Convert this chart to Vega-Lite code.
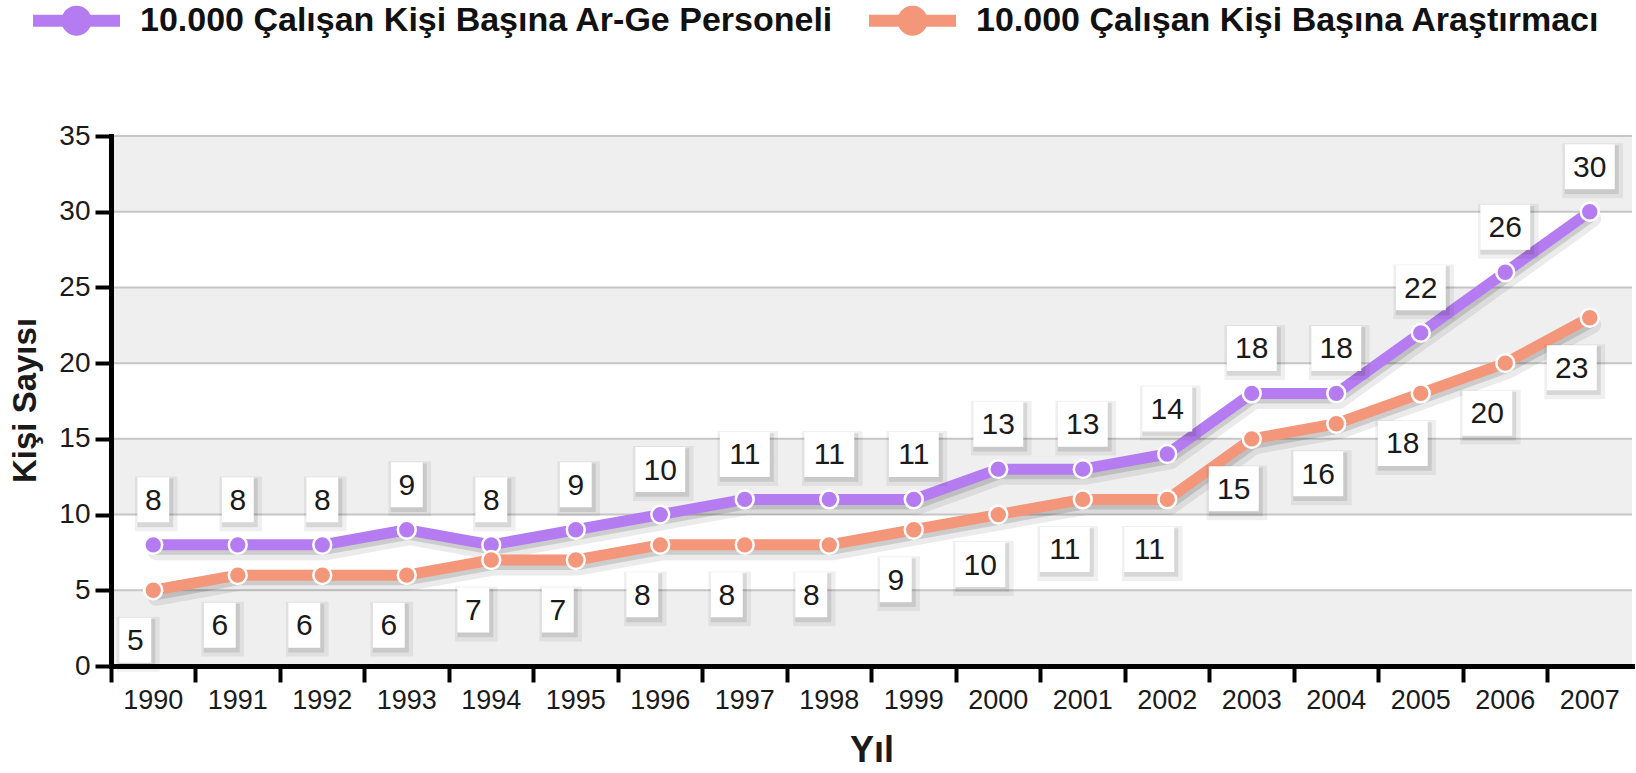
{
  "$schema": "https://vega.github.io/schema/vega-lite/v6.json",
  "width": 1521,
  "height": 530,
  "autosize": {"type": "none"},
  "padding": {"left": 111, "top": 136, "right": 4, "bottom": 107},
  "background": "white",
  "config": {
    "font": "Liberation Sans",
    "view": {"stroke": null}
  },
  "datasets": {
    "series": [
      {"year": "1990", "series": "10.000 Çalışan Kişi Başına Ar-Ge Personeli", "value": 8},
      {"year": "1991", "series": "10.000 Çalışan Kişi Başına Ar-Ge Personeli", "value": 8},
      {"year": "1992", "series": "10.000 Çalışan Kişi Başına Ar-Ge Personeli", "value": 8},
      {"year": "1993", "series": "10.000 Çalışan Kişi Başına Ar-Ge Personeli", "value": 9},
      {"year": "1994", "series": "10.000 Çalışan Kişi Başına Ar-Ge Personeli", "value": 8},
      {"year": "1995", "series": "10.000 Çalışan Kişi Başına Ar-Ge Personeli", "value": 9},
      {"year": "1996", "series": "10.000 Çalışan Kişi Başına Ar-Ge Personeli", "value": 10},
      {"year": "1997", "series": "10.000 Çalışan Kişi Başına Ar-Ge Personeli", "value": 11},
      {"year": "1998", "series": "10.000 Çalışan Kişi Başına Ar-Ge Personeli", "value": 11},
      {"year": "1999", "series": "10.000 Çalışan Kişi Başına Ar-Ge Personeli", "value": 11},
      {"year": "2000", "series": "10.000 Çalışan Kişi Başına Ar-Ge Personeli", "value": 13},
      {"year": "2001", "series": "10.000 Çalışan Kişi Başına Ar-Ge Personeli", "value": 13},
      {"year": "2002", "series": "10.000 Çalışan Kişi Başına Ar-Ge Personeli", "value": 14},
      {"year": "2003", "series": "10.000 Çalışan Kişi Başına Ar-Ge Personeli", "value": 18},
      {"year": "2004", "series": "10.000 Çalışan Kişi Başına Ar-Ge Personeli", "value": 18},
      {"year": "2005", "series": "10.000 Çalışan Kişi Başına Ar-Ge Personeli", "value": 22},
      {"year": "2006", "series": "10.000 Çalışan Kişi Başına Ar-Ge Personeli", "value": 26},
      {"year": "2007", "series": "10.000 Çalışan Kişi Başına Ar-Ge Personeli", "value": 30},
      {"year": "1990", "series": "10.000 Çalışan Kişi Başına Araştırmacı", "value": 5},
      {"year": "1991", "series": "10.000 Çalışan Kişi Başına Araştırmacı", "value": 6},
      {"year": "1992", "series": "10.000 Çalışan Kişi Başına Araştırmacı", "value": 6},
      {"year": "1993", "series": "10.000 Çalışan Kişi Başına Araştırmacı", "value": 6},
      {"year": "1994", "series": "10.000 Çalışan Kişi Başına Araştırmacı", "value": 7},
      {"year": "1995", "series": "10.000 Çalışan Kişi Başına Araştırmacı", "value": 7},
      {"year": "1996", "series": "10.000 Çalışan Kişi Başına Araştırmacı", "value": 8},
      {"year": "1997", "series": "10.000 Çalışan Kişi Başına Araştırmacı", "value": 8},
      {"year": "1998", "series": "10.000 Çalışan Kişi Başına Araştırmacı", "value": 8},
      {"year": "1999", "series": "10.000 Çalışan Kişi Başına Araştırmacı", "value": 9},
      {"year": "2000", "series": "10.000 Çalışan Kişi Başına Araştırmacı", "value": 10},
      {"year": "2001", "series": "10.000 Çalışan Kişi Başına Araştırmacı", "value": 11},
      {"year": "2002", "series": "10.000 Çalışan Kişi Başına Araştırmacı", "value": 11},
      {"year": "2003", "series": "10.000 Çalışan Kişi Başına Araştırmacı", "value": 15},
      {"year": "2004", "series": "10.000 Çalışan Kişi Başına Araştırmacı", "value": 16},
      {"year": "2005", "series": "10.000 Çalışan Kişi Başına Araştırmacı", "value": 18},
      {"year": "2006", "series": "10.000 Çalışan Kişi Başına Araştırmacı", "value": 20},
      {"year": "2007", "series": "10.000 Çalışan Kişi Başına Araştırmacı", "value": 23}
    ],
    "bands": [
      {"lo": 0, "hi": 5}, {"lo": 10, "hi": 15}, {"lo": 20, "hi": 25}, {"lo": 30, "hi": 35}
    ],
    "grid": [
      {"v": 5}, {"v": 10}, {"v": 15}, {"v": 20}, {"v": 25}, {"v": 30}, {"v": 35}
    ]
  },
  "layer": [
    {
      "data": {"name": "bands"},
      "mark": {"type": "rect", "color": "#efefef"},
      "encoding": {
        "y": {"field": "lo", "type": "quantitative", "title": "Kişi Sayısı", "scale": {"domain": [0, 35], "nice": false},
          "axis": {
            "values": [0, 5, 10, 15, 20, 25, 30, 35],
            "domainColor": "#000000", "domainWidth": 5, "domainCap": "square", "tickColor": "#000000", "tickWidth": 4, "tickSize": 16,
            "labelFontSize": 28, "labelColor": "#1a1a1a", "labelPadding": 5,
            "titleFontSize": 33, "titleFontWeight": "bold", "titleColor": "#1a1a1a", "titleX": -86, "titleY": 264,
            "titleBaseline": "middle", "titleAlign": "center", "titleAngle": 270,
            "grid": false, "zindex": 1
          }
        },
        "y2": {"field": "hi"}
      }
    },
    {
      "data": {"name": "grid"},
      "mark": {"type": "rule", "color": "#c6c6c6", "strokeWidth": 2},
      "encoding": {
        "y": {"field": "v", "type": "quantitative", "title": "Kişi Sayısı", "scale": {"domain": [0, 35], "nice": false}}
      }
    },
    {
      "data": {"name": "series"},
      "mark": {"type": "line", "color": "#000000", "opacity": 0.08, "strokeWidth": 17, "xOffset": 3, "yOffset": 7, "strokeJoin": "round", "strokeCap": "round"},
      "encoding": {
        "x": {"field": "year", "type": "ordinal", "title": "Yıl", "scale": {"type": "band", "paddingInner": 0, "paddingOuter": 0},
          "axis": {
            "domainColor": "#000000", "domainWidth": 5, "domainCap": "square", "tickColor": "#000000", "tickWidth": 4, "tickSize": 16,
            "labelFontSize": 27, "labelColor": "#1a1a1a", "labelPadding": 5, "labelAngle": 0, "bandPosition": 0,
            "titleFontSize": 36, "titleFontWeight": "bold", "titleColor": "#1a1a1a", "titleY": 84, "titleBaseline": "middle",
            "grid": false, "zindex": 1
          }
        },
        "y": {"field": "value", "type": "quantitative", "title": "Kişi Sayısı", "scale": {"domain": [0, 35], "nice": false}},
        "detail": {"field": "series"}
      }
    },
    {
      "data": {"name": "series"},
      "mark": {"type": "line", "color": "#000000", "opacity": 0.13, "strokeWidth": 10, "xOffset": 2, "yOffset": 5, "strokeJoin": "round"},
      "encoding": {
        "x": {"field": "year", "type": "ordinal", "title": "Yıl", "scale": {"type": "band", "paddingInner": 0, "paddingOuter": 0}},
        "y": {"field": "value", "type": "quantitative", "title": "Kişi Sayısı", "scale": {"domain": [0, 35], "nice": false}},
        "detail": {"field": "series"}
      }
    },
    {
      "data": {"name": "series"},
      "mark": {"type": "line", "strokeWidth": 11, "strokeJoin": "round"},
      "encoding": {
        "x": {"field": "year", "type": "ordinal", "title": "Yıl", "scale": {"type": "band", "paddingInner": 0, "paddingOuter": 0}},
        "y": {"field": "value", "type": "quantitative", "title": "Kişi Sayısı", "scale": {"domain": [0, 35], "nice": false}},
        "color": {
          "field": "series", "type": "nominal",
          "scale": {"domain": ["10.000 Çalışan Kişi Başına Ar-Ge Personeli", "10.000 Çalışan Kişi Başına Araştırmacı"], "range": ["#b57cf2", "#f4967a"]},
          "legend": {
            "orient": "none", "legendX": -78, "legendY": -159, "direction": "horizontal", "title": null, "padding": 0,
            "labelFontSize": 34, "labelFontWeight": "bold", "labelColor": "#111111", "labelLimit": 1000, "labelOffset": 20,
            "columnPadding": 32, "symbolSize": 7225, "symbolOpacity": 1,
            "symbolType": "M-1,-0.12H-0.28V0.12H-1Z M0.28,-0.12H1V0.12H0.28Z M0.33,0A0.33,0.33 0 1,1 -0.33,0A0.33,0.33 0 1,1 0.33,0Z",
            "encode": {"symbols": {"update": {"fill": {"scale": "color", "field": "value"}, "stroke": {"value": "#ffffff"}, "strokeWidth": {"value": 2}}}}
          }
        }
      }
    },
    {
      "data": {"name": "series"},
      "mark": {"type": "point", "filled": true, "size": 320, "stroke": "#ffffff", "strokeWidth": 2.5, "opacity": 1},
      "encoding": {
        "x": {"field": "year", "type": "ordinal", "title": "Yıl", "scale": {"type": "band", "paddingInner": 0, "paddingOuter": 0}},
        "y": {"field": "value", "type": "quantitative", "title": "Kişi Sayısı", "scale": {"domain": [0, 35], "nice": false}},
        "color": {"field": "series", "type": "nominal"}
      }
    },
    {
      "data": {"name": "series"},
      "transform": [{"filter": {"field": "series", "equal": "10.000 Çalışan Kişi Başına Ar-Ge Personeli"}}],
      "mark": {"type": "point", "filled": true, "color": "#000000", "opacity": 0.06, "size": 2025, "xOffset": 3, "yOffset": -41},
      "encoding": {
        "x": {"field": "year", "type": "ordinal", "title": "Yıl", "scale": {"type": "band", "paddingInner": 0, "paddingOuter": 0}},
        "y": {"field": "value", "type": "quantitative", "title": "Kişi Sayısı", "scale": {"domain": [0, 35], "nice": false}},
        "shape": {"condition": {"test": "datum.value >= 10", "value": "M-1.35,-1.22H1.35V1.22H-1.35Z"}, "value": "M-0.95,-1.22H0.95V1.22H-0.95Z"}
      }
    },
    {
      "data": {"name": "series"},
      "transform": [{"filter": {"field": "series", "equal": "10.000 Çalışan Kişi Başına Ar-Ge Personeli"}}],
      "mark": {"type": "point", "filled": true, "color": "#000000", "opacity": 0.1, "size": 2025, "xOffset": 2, "yOffset": -42},
      "encoding": {
        "x": {"field": "year", "type": "ordinal", "title": "Yıl", "scale": {"type": "band", "paddingInner": 0, "paddingOuter": 0}},
        "y": {"field": "value", "type": "quantitative", "title": "Kişi Sayısı", "scale": {"domain": [0, 35], "nice": false}},
        "shape": {"condition": {"test": "datum.value >= 10", "value": "M-1.2,-1.08H1.2V1.08H-1.2Z"}, "value": "M-0.8,-1.08H0.8V1.08H-0.8Z"}
      }
    },
    {
      "data": {"name": "series"},
      "transform": [{"filter": {"field": "series", "equal": "10.000 Çalışan Kişi Başına Araştırmacı"}}],
      "mark": {"type": "point", "filled": true, "color": "#000000", "opacity": 0.06, "size": 2025, "xOffset": -15, "yOffset": 54},
      "encoding": {
        "x": {"field": "year", "type": "ordinal", "title": "Yıl", "scale": {"type": "band", "paddingInner": 0, "paddingOuter": 0}},
        "y": {"field": "value", "type": "quantitative", "title": "Kişi Sayısı", "scale": {"domain": [0, 35], "nice": false}},
        "shape": {"condition": {"test": "datum.value >= 10", "value": "M-1.35,-1.22H1.35V1.22H-1.35Z"}, "value": "M-0.95,-1.22H0.95V1.22H-0.95Z"}
      }
    },
    {
      "data": {"name": "series"},
      "transform": [{"filter": {"field": "series", "equal": "10.000 Çalışan Kişi Başına Araştırmacı"}}],
      "mark": {"type": "point", "filled": true, "color": "#000000", "opacity": 0.1, "size": 2025, "xOffset": -16, "yOffset": 53},
      "encoding": {
        "x": {"field": "year", "type": "ordinal", "title": "Yıl", "scale": {"type": "band", "paddingInner": 0, "paddingOuter": 0}},
        "y": {"field": "value", "type": "quantitative", "title": "Kişi Sayısı", "scale": {"domain": [0, 35], "nice": false}},
        "shape": {"condition": {"test": "datum.value >= 10", "value": "M-1.2,-1.08H1.2V1.08H-1.2Z"}, "value": "M-0.8,-1.08H0.8V1.08H-0.8Z"}
      }
    },
    {
      "data": {"name": "series"},
      "transform": [{"filter": {"field": "series", "equal": "10.000 Çalışan Kişi Başına Ar-Ge Personeli"}}],
      "mark": {"type": "point", "filled": true, "color": "#ffffff", "opacity": 1, "size": 2025, "yOffset": -45},
      "encoding": {
        "x": {"field": "year", "type": "ordinal", "title": "Yıl", "scale": {"type": "band", "paddingInner": 0, "paddingOuter": 0}},
        "y": {"field": "value", "type": "quantitative", "title": "Kişi Sayısı", "scale": {"domain": [0, 35], "nice": false}},
        "shape": {"condition": {"test": "datum.value >= 10", "value": "M-1.11,-1H1.11V1H-1.11Z"}, "value": "M-0.71,-1H0.71V1H-0.71Z"}
      }
    },
    {
      "data": {"name": "series"},
      "transform": [{"filter": {"field": "series", "equal": "10.000 Çalışan Kişi Başına Araştırmacı"}}],
      "mark": {"type": "point", "filled": true, "color": "#ffffff", "opacity": 1, "size": 2025, "xOffset": -18, "yOffset": 50},
      "encoding": {
        "x": {"field": "year", "type": "ordinal", "title": "Yıl", "scale": {"type": "band", "paddingInner": 0, "paddingOuter": 0}},
        "y": {"field": "value", "type": "quantitative", "title": "Kişi Sayısı", "scale": {"domain": [0, 35], "nice": false}},
        "shape": {"condition": {"test": "datum.value >= 10", "value": "M-1.11,-1H1.11V1H-1.11Z"}, "value": "M-0.71,-1H0.71V1H-0.71Z"}
      }
    },
    {
      "data": {"name": "series"},
      "transform": [{"filter": {"field": "series", "equal": "10.000 Çalışan Kişi Başına Ar-Ge Personeli"}}],
      "mark": {"type": "text", "fontSize": 30, "color": "#1a1a1a", "baseline": "middle", "align": "center", "yOffset": -44},
      "encoding": {
        "x": {"field": "year", "type": "ordinal", "title": "Yıl", "scale": {"type": "band", "paddingInner": 0, "paddingOuter": 0}},
        "y": {"field": "value", "type": "quantitative", "title": "Kişi Sayısı", "scale": {"domain": [0, 35], "nice": false}},
        "text": {"field": "value", "type": "quantitative"}
      }
    },
    {
      "data": {"name": "series"},
      "transform": [{"filter": {"field": "series", "equal": "10.000 Çalışan Kişi Başına Araştırmacı"}}],
      "mark": {"type": "text", "fontSize": 30, "color": "#1a1a1a", "baseline": "middle", "align": "center", "xOffset": -18, "yOffset": 51},
      "encoding": {
        "x": {"field": "year", "type": "ordinal", "title": "Yıl", "scale": {"type": "band", "paddingInner": 0, "paddingOuter": 0}},
        "y": {"field": "value", "type": "quantitative", "title": "Kişi Sayısı", "scale": {"domain": [0, 35], "nice": false}},
        "text": {"field": "value", "type": "quantitative"}
      }
    }
  ]
}
